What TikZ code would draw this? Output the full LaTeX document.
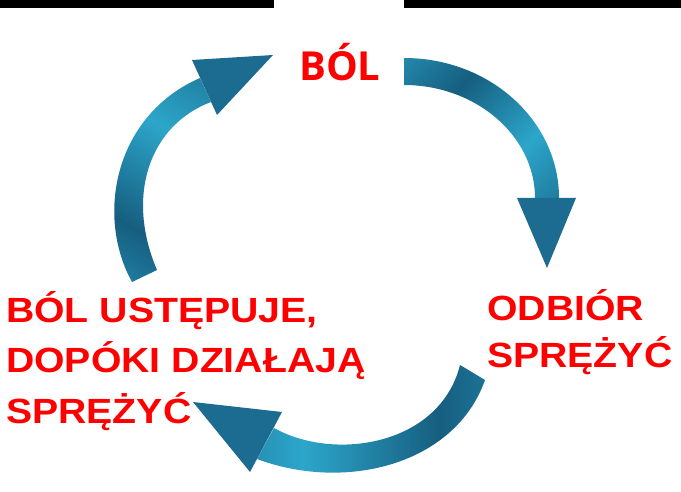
\documentclass[tikz,border=0pt]{standalone}
\usepackage{fontspec}
\newfontfamily\titlefont{Open Sans}
\newfontfamily\labelfont{Liberation Sans}[FakeStretch=1.12]
\definecolor{arrdark}{RGB}{22,94,128}
\definecolor{arrlight}{RGB}{44,166,202}
\definecolor{arrhead}{RGB}{28,108,146}
\definecolor{txtred}{RGB}{255,0,0}
\pgfdeclarehorizontalshading{ringblue}{100bp}{color(0bp)=(arrlight); color(35bp)=(arrdark); color(65bp)=(arrlight); color(100bp)=(arrdark)}

\begin{document}
\begin{tikzpicture}[x=1pt,y=-1pt,
	shaft/.style={shading=ringblue,shading angle=#1},
	head/.style={fill=arrhead},
	label/.style={inner sep=0pt,anchor=base west,text=txtred,align=left}]
	\fill[white] (0,0) rectangle (681,487);
	\fill[black] (0,0) rectangle (274,8);
	\fill[black] (404,0) rectangle (681,8);

	\shade[shaft=-45] (404,58) .. controls (490,58) and (559,121) .. (559,198) -- (535,198) .. controls (535,136) and (476,85) .. (404,85) -- cycle;
	\fill[head] (517,198) -- (576,198) -- (547,268) -- cycle;

	\shade[shaft=180] (485,380) .. controls (455,465) and (345,492) .. (257,459) -- (274,428) .. controls (335,462) and (440,445) .. (460,365) -- cycle;
	\fill[head] (250,472) -- (193,402) -- (282,412) -- cycle;

	\shade[shaft=60] (132,282) .. controls (95,215) and (115,115) .. (200,78) -- (211,102) .. controls (150,125) and (125,195) .. (157,270) -- cycle;
	\fill[head] (192,60) -- (273,55) -- (217,115) -- cycle;

	\node[label,font=\titlefont\bfseries\fontsize{40}{48}\selectfont] (pain) at (299,81) {BÓL};
	\node[label,font=\labelfont\bfseries\fontsize{35}{47}\selectfont] (removal) at (487,367) {ODBIÓR\\SPRĘŻYĆ};
	\node[label,font=\labelfont\bfseries\fontsize{35}{50.5}\selectfont] (relief) at (6,423) {BÓL USTĘPUJE,\\DOPÓKI DZIAŁAJĄ\\SPRĘŻYĆ};
\end{tikzpicture}
\end{document}
